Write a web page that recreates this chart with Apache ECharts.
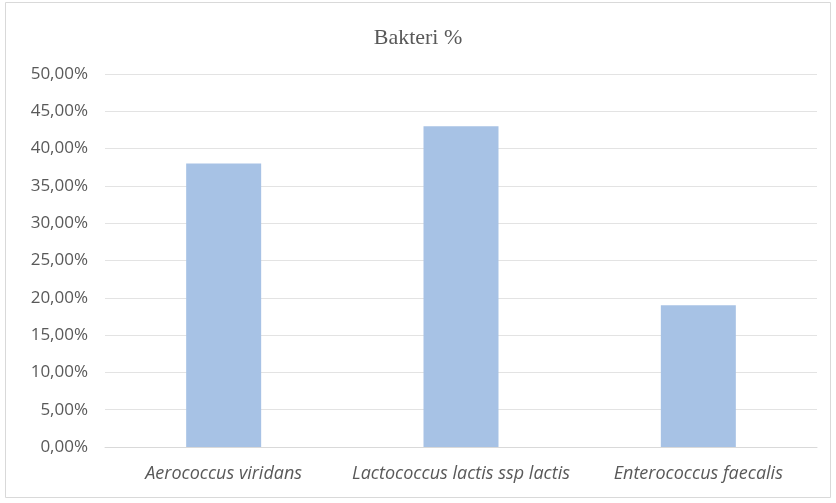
<!DOCTYPE html>
<html lang="en">
<head>
    <meta charset="utf-8"/>
    <title>Bakteri %</title>
    <script src="https://cdn.jsdelivr.net/npm/echarts@6/dist/echarts.min.js"></script>
</head>
<body style="margin:0;background:#fff;">
<div id="chart" style="width:836px;height:503px;"></div>
<script type="text/javascript">
    // data
    var categories = ['Aerococcus viridans', 'Lactococcus lactis ssp lactis', 'Enterococcus faecalis'];
    var values = [0.38, 0.43, 0.19];

    var myChart = echarts.init(document.getElementById('chart'));
    var option = {
        backgroundColor: '#ffffff',
        graphic: [{
            type: 'rect',
            shape: {x: 5.5, y: 2.5, width: 825, height: 495},
            style: {fill: 'none', stroke: '#d9d9d9', lineWidth: 1}
        }],
        title: {
            text: 'Bakteri %',
            left: 'center',
            top: 22,
            textStyle: {
                fontFamily: 'Liberation Serif',
                fontWeight: 'normal',
                fontSize: 22,
                color: '#595959'
            }
        },
        grid: {left: 105, right: 19, top: 74, bottom: 56, containLabel: false},
        xAxis: {
            type: 'category',
            data: categories,
            axisTick: {show: false},
            axisLine: {lineStyle: {color: '#d9d9d9'}},
            axisLabel: {
                interval: 0,
                color: '#595959',
                fontFamily: 'Open Sans',
                fontStyle: 'italic',
                fontSize: 18,
                margin: 18
            }
        },
        yAxis: {
            type: 'value',
            min: 0,
            max: 0.5,
            interval: 0.05,
            axisLine: {show: false},
            axisTick: {show: false},
            splitLine: {lineStyle: {color: '#e3e3e3'}},
            axisLabel: {
                color: '#595959',
                fontFamily: 'Open Sans',
                fontSize: 17,
                margin: 17,
                formatter: function (v) {
                    return (v * 100).toFixed(2).replace('.', ',') + '%';
                }
            }
        },
        series: [{
            name: 'Bakteri %',
            type: 'bar',
            data: values,
            barWidth: '31.6%',
            itemStyle: {color: '#a7c2e5'}
        }]
    };
    myChart.setOption(option);
</script>
</body>
</html>
